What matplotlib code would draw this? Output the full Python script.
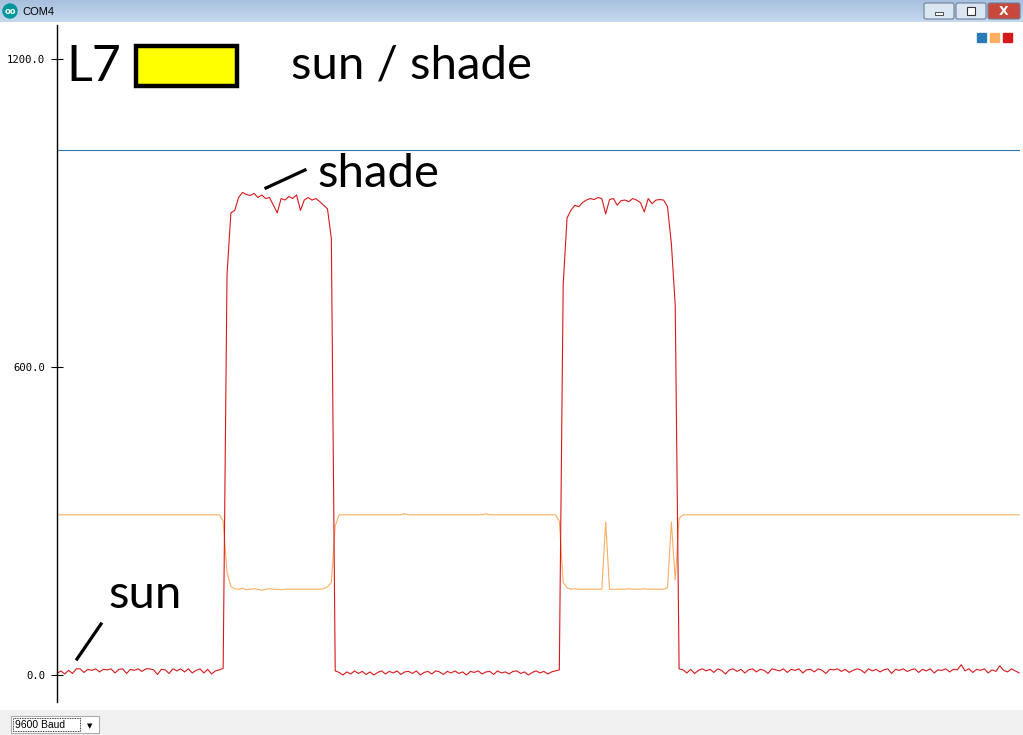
import numpy as np
import matplotlib
matplotlib.use("Agg")
import matplotlib.pyplot as plt
from matplotlib.patches import Rectangle, Circle, FancyBboxPatch

# serial plotter samples (3 channels)
red = ([3, 8, 2, 9, 3, 12, 12, 5, 11, 9, 12, 6, 11, 10, 12, 4, 11, 12, 3, 11,
        9, 12, 7, 12, 12, 10, 1, 11, 10, 3, 12, 8, 12, 6, 12, 4, 9, 12, 4, 11,
        2, 8, 10, 13]
       + [780, 900, 905, 930, 940, 936, 934, 938, 930, 935, 928, 930, 915, 900,
          928, 925, 932, 928, 935, 905, 925, 930, 925, 928, 922, 915, 908, 850]
       + [8, 5, 0, 6, 2, 8, 3, 7, 1, 6, 0, 5, 8, 2, 7, 4, 8, 1, 6, 7,
          3, 8, 0, 5, 7, 2, 8, 6, 1, 7, 4, 8, 3, 6, 0, 7, 5, 8, 2, 6,
          7, 1, 8, 4, 6, 2, 7, 8, 3, 6, 0, 5, 8, 4, 7, 2, 6, 8, 10]
       + [760, 890, 905, 915, 912, 920, 925, 928, 926, 930, 928, 898, 926, 928,
          915, 924, 925, 922, 928, 925, 920, 902, 928, 918, 925, 926, 925, 912,
          840, 720]
       + [12, 10, 4, 11, 3, 9, 12, 8, 11, 5, 12, 9, 2, 10, 12, 7, 11, 4, 10, 12,
          6, 11, 9, 3, 12, 10, 8, 12, 5, 11, 9, 12, 4, 10, 11, 6, 12, 9, 3, 11,
          10, 12, 7, 11, 5, 9, 12, 10, 4, 12, 8, 11, 6, 10, 12, 3, 11, 9, 12, 7,
          10, 12, 5, 11, 8, 12, 4, 10, 9, 12, 6, 11, 10, 20, 8, 12, 5, 11, 9, 12,
          4, 10, 7, 18, 9, 6, 12, 8, 4])

orange = ([312] * 43
          + [300, 200, 172, 168, 167, 169, 166, 167, 168, 167, 165, 167, 168, 167,
             167, 166, 167, 167, 167, 167, 167, 167, 167, 167, 167, 167, 168, 172,
             180, 290]
          + [312] * 17 + [314] + [312] * 20 + [314] + [312] * 18
          + [300, 180, 170, 167, 168, 167, 167, 167, 167, 167, 167, 167, 298,
             167, 167, 167, 167, 167, 168, 167, 167, 167, 168, 167, 167, 167,
             167, 167, 170, 298, 185, 305]
          + [312] * 88)

blue = [1023] * 250

yticks = [0, 600, 1200]
ytick_labels = ["0.0", "600.0", "1200.0"]

W, H = 1023, 735
fig = plt.figure(figsize=(W / 100, H / 100), dpi=100, facecolor="white")

def fbox(x0, y0, x1, y1):
    # pixel box (top-left origin) -> figure fraction rect
    return [x0 / W, 1 - y1 / H, (x1 - x0) / W, (y1 - y0) / H]

# plot area
ax = fig.add_axes(fbox(57, 25, 1023, 702))
x = np.arange(len(red))
ax.plot(x, blue, color="#2c7bb6", lw=0.8)
ax.plot(x, orange, color="#fdae61", lw=0.8)
ax.plot(x, red, color="#d7191c", lw=0.8)
ax.set_xlim(0, 250)
ax.set_ylim(-52.6, 1266)
for s in ["top", "right", "bottom"]:
    ax.spines[s].set_visible(False)
ax.spines["left"].set_linewidth(1.0)
ax.set_xticks([])
ax.set_yticks(yticks)
ax.set_yticklabels(ytick_labels, fontfamily="DejaVu Sans Mono", fontsize=7.6)
ax.tick_params(axis="y", direction="inout", length=9, width=0.8, pad=4)

# overlay in pixel coords for window chrome and annotations
ov = fig.add_axes([0, 0, 1, 1], zorder=5)
ov.set_xlim(0, W)
ov.set_ylim(H, 0)
ov.axis("off")
ov.patch.set_visible(False)

# title bar gradient
grad = np.linspace(0, 1, 50).reshape(-1, 1)
tb = fig.add_axes(fbox(0, 0, W, 22), zorder=4)
tb.imshow(grad, aspect="auto", cmap=matplotlib.colors.LinearSegmentedColormap.from_list(
    "tb", ["#a7c0de", "#c6d9ee"]), extent=[0, 1, 0, 1])
tb.axis("off")
ov.add_patch(Circle((10, 11), 7, color="#00979c"))
ov.text(10, 11.5, "oo", color="white", fontsize=6, ha="center", va="center", weight="bold")
ov.text(22, 12, "COM4", fontsize=8, va="center", family="Liberation Sans")
for bx0, bx1, fc in [(924, 954, "#dbe6f3"), (956, 986, "#dbe6f3"), (988, 1020, "#c9483c")]:
    ov.add_patch(FancyBboxPatch((bx0, 3), bx1 - bx0, 16, boxstyle="round,pad=0,rounding_size=2",
                                fc=fc, ec="#6c7f99", lw=0.8))
ov.add_patch(Rectangle((935, 12), 8, 3, fc="white", ec="#333333", lw=0.6))
ov.add_patch(Rectangle((967, 7), 8, 8, fc="white", ec="#333333", lw=0.8))
ov.text(1004, 11.5, "X", color="white", fontsize=9, weight="bold", ha="center", va="center")

# legend squares
for lx, c in [(977, "#2c7bb6"), (990, "#fdae61"), (1003, "#d7191c")]:
    ov.add_patch(Rectangle((lx, 33), 9, 9, color=c))

# annotations
tf = dict(family="Lato", fontsize=34, va="baseline", color="black")
ov.text(66, 81, "L7", **dict(tf, fontsize=36))
ov.add_patch(Rectangle((136, 46), 101, 40, fc="#ffff00", ec="black", lw=3.2))
ov.text(291, 78, "sun / shade", **tf)
ov.text(317, 187, "shade", **tf)
ov.text(108, 608, "sun", **tf)
ov.plot([266, 305], [188, 170], color="black", lw=2.3)
ov.plot([77, 101], [659, 624], color="black", lw=2.3)

# bottom status bar
ov.add_patch(Rectangle((0, 710), W, 25, fc="#f0f0f0", ec="none"))
ov.add_patch(Rectangle((11, 716), 88, 17, fc="white", ec="#acacac", lw=0.8))
ov.add_patch(Rectangle((13, 718), 67, 13, fc="none", ec="black", lw=0.6, ls=(0, (1, 1))))
ov.text(15, 725, "9600 Baud", fontsize=7.5, va="center", family="Liberation Sans")
ov.text(90, 726, "▼", fontsize=5, va="center", ha="center")

fig.savefig("out.png", dpi=100, facecolor="white")
